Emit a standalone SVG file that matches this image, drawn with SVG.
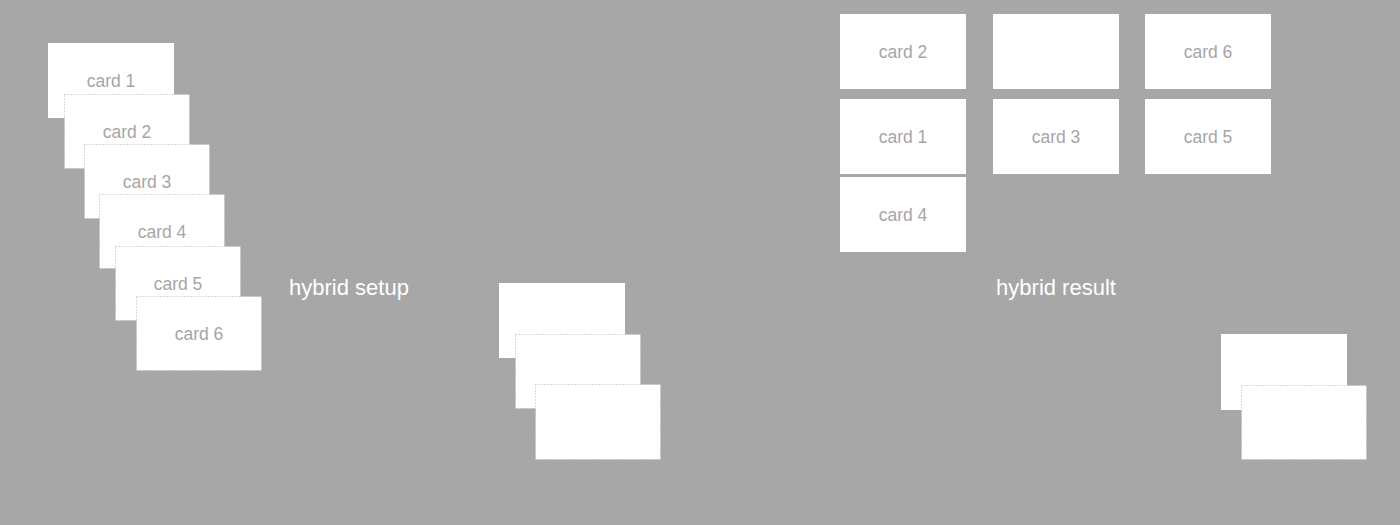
<svg xmlns="http://www.w3.org/2000/svg" width="1400" height="525" viewBox="0 0 1400 525">
<style>
.card{fill:#ffffff}
.ov{stroke:#b4b4b4;stroke-width:1;stroke-dasharray:1 2}
.ct{font-family:"Liberation Sans",Arial,sans-serif;font-size:17.5px;fill:#a6a6a6;text-anchor:middle}
.lbl{font-family:"Liberation Sans",Arial,sans-serif;font-size:22px;fill:#ffffff;text-anchor:middle}
</style>
<rect width="1400" height="525" fill="#a6a7a6"/>
<g id="setup">
<g id="s-card1"><rect class="card" x="48" y="43" width="126" height="75"/><text class="ct" x="111" y="87">card 1</text></g>
<g id="s-card2"><rect class="card ov" x="64.5" y="94.5" width="125" height="74"/><text class="ct" x="127" y="138">card 2</text></g>
<g id="s-card3"><rect class="card ov" x="84.5" y="144.5" width="125" height="74"/><text class="ct" x="147" y="188">card 3</text></g>
<g id="s-card4"><rect class="card ov" x="99.5" y="194.5" width="125" height="74"/><text class="ct" x="162" y="238">card 4</text></g>
<g id="s-card5"><rect class="card ov" x="115.5" y="246.5" width="125" height="74"/><text class="ct" x="178" y="290">card 5</text></g>
<g id="s-card6"><rect class="card ov" x="136.5" y="296.5" width="125" height="74"/><text class="ct" x="199" y="340">card 6</text></g>
</g>
<g id="label-setup"><text class="lbl" x="349" y="295">hybrid setup</text></g>
<g id="mid-stack">
<g id="m-a"><rect class="card" x="499" y="283" width="126" height="75"/></g>
<g id="m-b"><rect class="card ov" x="515.5" y="334.5" width="125" height="74"/></g>
<g id="m-c"><rect class="card ov" x="535.5" y="384.5" width="125" height="75"/></g>
</g>
<g id="result">
<g id="r-card2"><rect class="card" x="840" y="14" width="126" height="75"/><text class="ct" x="903" y="58">card 2</text></g>
<g id="r-blank"><rect class="card" x="993" y="14" width="126" height="75"/></g>
<g id="r-card6"><rect class="card" x="1145" y="14" width="126" height="75"/><text class="ct" x="1208" y="58">card 6</text></g>
<g id="r-card1"><rect class="card" x="840" y="99" width="126" height="75"/><text class="ct" x="903" y="143">card 1</text></g>
<g id="r-card3"><rect class="card" x="993" y="99" width="126" height="75"/><text class="ct" x="1056" y="143">card 3</text></g>
<g id="r-card5"><rect class="card" x="1145" y="99" width="126" height="75"/><text class="ct" x="1208" y="143">card 5</text></g>
<g id="r-card4"><rect class="card" x="840" y="177" width="126" height="75"/><text class="ct" x="903" y="221">card 4</text></g>
</g>
<g id="label-result"><text class="lbl" x="1056" y="295">hybrid result</text></g>
<g id="right-stack">
<g id="rs-a"><rect class="card" x="1221" y="334" width="126" height="76"/></g>
<g id="rs-b"><rect class="card ov" x="1241.5" y="385.5" width="125" height="74"/></g>
</g>
<g id="connectors"></g>
</svg>
